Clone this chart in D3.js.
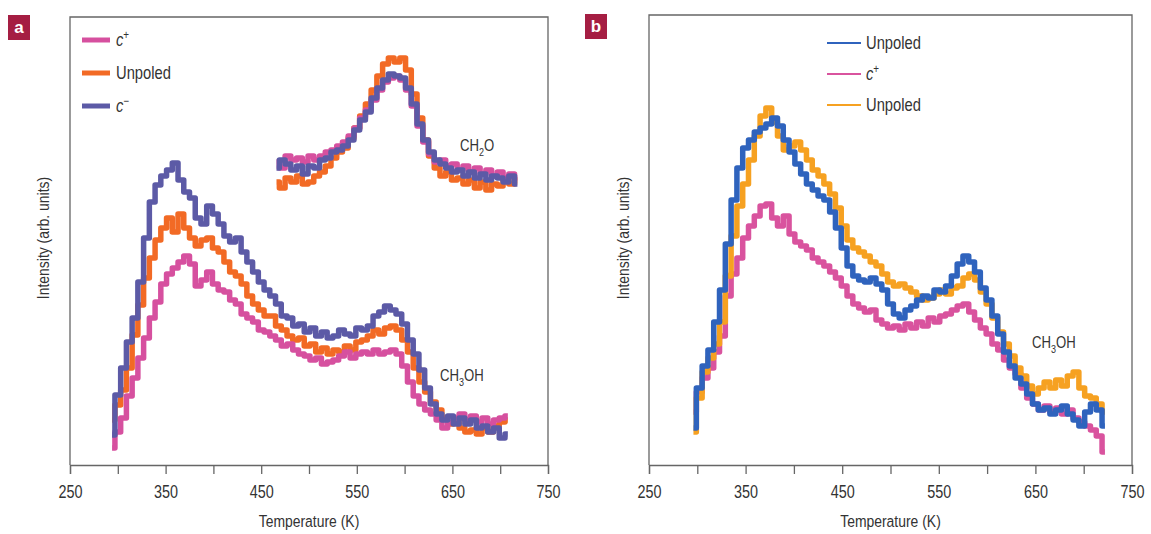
<!DOCTYPE html>
<html>
<head>
<meta charset="utf-8">
<script src="https://cdn.jsdelivr.net/npm/d3@7"></script>
<style>
  body { margin: 0; background: #fff; }
  text { font-family: 'Liberation Sans', Arial, sans-serif; fill: #333; }
</style>
</head>
<body>
<div id="graf"></div>
<script>
// Temperature sample points (K)
const tempA = [294,300,306,312,318,324,330,336,342,348,354,360,366,372,378,384,390,396,402,408,
  414,420,426,432,438,444,450,456,462,468,474,480,486,492,498,504,510,516,522,528,
  534,540,546,552,558,564,570,576,582,588,594,600,606,612,618,624,630,636,642,648,
  654,660,666,672,678,684,690,696,702,708]
const tempCH2O = [466,472,478,484,490,496,502,508,514,520,526,532,538,544,550,556,562,568,574,580,
  586,592,598,604,610,616,622,628,634,640,646,652,658,664,670,676,682,688,694,700,
  706,712,718]
const tempB = [296,302,308,314,320,326,332,338,344,350,356,362,368,374,380,386,392,398,404,410,
  416,422,428,434,440,446,452,458,464,470,476,482,488,494,500,506,512,518,524,530,
  536,542,548,554,560,566,572,578,584,590,596,602,608,614,620,626,632,638,644,650,
  656,662,668,674,680,686,692,698,704,710,716,722]

// Panel a, CH3OH (arb. units)
const aMinusCH3OH = [30,70,97,123,147,183,227,263,280,289,295,302,285,273,267,247,241,259,251,241,
  229,223,227,213,203,193,183,175,169,161,149,147,139,141,133,137,129,133,127,129,
  135,131,129,137,135,139,149,153,159,155,151,141,125,111,95,77,61,51,45,49,
  41,47,41,45,37,39,33,37,27,31]
const aUnpoledCH3OH = [45,60,75,97,130,160,187,207,225,237,247,233,251,237,227,219,225,227,217,213,
  203,193,189,181,169,161,155,149,149,139,135,129,125,127,119,121,113,117,111,115,
  113,119,115,123,125,129,135,131,137,139,135,125,113,97,83,73,63,55,47,41,
  43,37,33,35,31,37,33,39,43,45]
const aPlusCH3OH = [17,33,47,69,87,107,127,147,163,181,191,197,203,209,201,179,185,193,181,175,
  173,165,161,151,147,143,135,133,129,125,119,121,115,111,109,105,107,101,103,105,
  109,113,107,111,113,111,115,111,113,115,111,99,83,69,61,55,51,45,37,43,
  47,51,45,49,43,47,41,45,47,49]

// Panel a, CH2O
const aMinusCH2O = [297,305,301,295,299,291,299,297,305,307,313,315,319,325,335,345,353,367,377,385,
  391,389,387,377,361,341,325,313,305,301,297,293,295,289,293,287,291,285,289,287,
  283,289,281]
const aUnpoledCH2O = [283,277,287,283,289,281,283,289,293,299,307,313,317,327,337,349,361,375,389,401,
  407,403,407,395,371,347,325,309,297,289,293,285,287,281,285,277,283,275,281,279,
  287,281,285]
const aPlusCH2O = [303,297,309,305,307,303,309,305,309,313,315,319,323,329,337,347,355,365,375,383,
  387,389,385,375,359,339,323,311,303,305,299,301,295,299,293,297,291,295,289,293,
  287,291,287]

// Panel b, CH3OH
const bUnpoledBlue = [37,77,99,115,143,175,221,265,297,317,325,333,337,341,347,339,325,313,301,291,
  281,275,269,265,253,237,217,199,189,185,183,187,181,175,161,151,147,155,159,165,
  169,167,175,173,179,189,201,209,203,193,177,165,149,131,113,99,87,81,71,61,
  55,57,51,55,59,51,45,39,53,61,55,39]
const bUnpoledOrange = [33,67,93,107,121,143,189,229,259,281,305,329,349,357,343,329,315,319,323,315,
  305,295,289,281,271,257,239,225,217,213,209,203,199,191,183,179,181,177,173,169,
  165,167,171,175,171,177,179,187,191,185,173,161,147,133,121,109,97,89,79,71,
  77,83,77,85,79,89,93,77,69,67,61,53]
const bPlus = [53,73,87,97,113,129,169,191,207,227,239,249,259,261,247,239,249,231,223,219,
  215,207,203,199,193,187,179,169,161,157,153,155,145,141,137,139,135,141,137,143,
  139,147,143,149,151,155,159,161,153,145,137,131,121,115,105,97,91,77,67,61,
  55,59,53,57,51,55,47,43,39,35,29,13]

const xTicks = [250,300,350,400,450,500,550,600,650,700,750]
const xTickLabels = ['250','','350','','450','','550','','650','','750']

const colA = { plus: '#d6509f', unpoled: '#f26a25', minus: '#5c5aa6' }
const colB = { blue: '#2f63bd', plus: '#d9539e', orange: '#f6a121' }

const svg = d3.select('#graf').append('svg')
  .attr('width', 1151)
  .attr('height', 534)

// squeeze the text horizontally a little, the original uses a condensed face
function narrow(sel, k) {
  sel.attr('transform', function () {
    const x = +this.getAttribute('x') || 0
    return `translate(${x},0) scale(${k},1) translate(${-x},0)`
  })
}

function panel(opts) {
  const g = svg.append('g')
    .attr('transform', `translate(${opts.left}, ${opts.top})`)

  const x = d3.scaleLinear().domain([250, 750]).range([0, opts.width])
  const y = d3.scaleLinear().domain([0, opts.height]).range([opts.height, 0])

  // frame
  g.append('path')
    .attr('d', `M0,${opts.height}V0H${opts.width}V${opts.height}`)
    .attr('fill', 'none')
    .attr('stroke', '#666')
    .attr('stroke-width', 1.3)

  const xAxis = d3.axisBottom(x)
    .tickValues(xTicks)
    .tickFormat((d, i) => xTickLabels[i])
    .tickSize(9)
    .tickPadding(11)

  const ax = g.append('g')
    .attr('transform', `translate(0, ${opts.height})`)
    .call(xAxis)
  ax.select('.domain').attr('stroke', '#666').attr('stroke-width', 1.3)
  ax.selectAll('.tick line').attr('stroke', '#666').attr('stroke-width', 1.3)
  ax.selectAll('.tick text').attr('font-size', 18).attr('fill', '#333')
    .style('font-family', "'Liberation Sans', Arial, sans-serif")
  narrow(ax.selectAll('.tick text').attr('x', 0), 0.8)

  const tx = g.append('text')
    .attr('x', opts.width / 2)
    .attr('y', opts.height + 62)
    .attr('text-anchor', 'middle')
    .attr('font-size', 17)
    .text('Temperature (K)')
  narrow(tx, 0.82)

  g.append('text')
    .attr('transform', `translate(${opts.ytx}, ${238 - opts.top}) rotate(-90) scale(0.82,1)`)
    .attr('text-anchor', 'middle')
    .attr('font-size', 17)
    .text('Intensity (arb. units)')

  const line = d3.line()
    .x(d => x(d[0]))
    .y(d => y(d[1]))
    .curve(d3.curveStep)

  opts.series.forEach(s => {
    g.append('path')
      .datum(d3.zip(s.t, s.v))
      .attr('d', line)
      .attr('fill', 'none')
      .attr('stroke', s.color)
      .attr('stroke-width', 5.5)
      .attr('stroke-linejoin', 'round')
  })

  return g
}

const ga = panel({
  left: 70, top: 17, width: 478, height: 448, ytx: -21,
  series: [
    { t: tempA, v: aUnpoledCH3OH, color: colA.unpoled },
    { t: tempA, v: aPlusCH3OH, color: colA.plus },
    { t: tempA, v: aMinusCH3OH, color: colA.minus },
    { t: tempCH2O, v: aUnpoledCH2O, color: colA.unpoled },
    { t: tempCH2O, v: aPlusCH2O, color: colA.plus },
    { t: tempCH2O, v: aMinusCH2O, color: colA.minus }
  ]
})

const gb = panel({
  left: 649, top: 15, width: 483, height: 450, ytx: -20,
  series: [
    { t: tempB, v: bPlus, color: colB.plus },
    { t: tempB, v: bUnpoledOrange, color: colB.orange },
    { t: tempB, v: bUnpoledBlue, color: colB.blue }
  ]
})

// legends
function sup(el, base, s, italic) {
  const t = el.append('text')
  t.append('tspan').attr('font-style', italic ? 'italic' : null).text(base)
  if (s) t.append('tspan').attr('dy', -7).attr('font-size', 12).text(s)
  return t
}

const legA = [
  { label: 'c', s: '+', italic: true, color: colA.plus },
  { label: 'Unpoled', s: '', italic: false, color: colA.unpoled },
  { label: 'c', s: '\u2212', italic: true, color: colA.minus }
]
legA.forEach((d, i) => {
  ga.append('line')
    .attr('x1', 12).attr('x2', 40)
    .attr('y1', 23 + i * 33).attr('y2', 23 + i * 33)
    .attr('stroke', d.color).attr('stroke-width', 5)
  const t = sup(ga, d.label, d.s, d.italic)
    .attr('x', 46).attr('y', 29 + i * 33)
    .attr('font-size', 18)
  narrow(t, 0.82)
})

const legB = [
  { label: 'Unpoled', s: '', italic: false, color: colB.blue },
  { label: 'c', s: '+', italic: true, color: colB.plus },
  { label: 'Unpoled', s: '', italic: false, color: colB.orange }
]
legB.forEach((d, i) => {
  gb.append('line')
    .attr('x1', 178).attr('x2', 212)
    .attr('y1', 28 + i * 31).attr('y2', 28 + i * 31)
    .attr('stroke', d.color).attr('stroke-width', 2)
  const t = sup(gb, d.label, d.s, d.italic)
    .attr('x', 217).attr('y', 34 + i * 31)
    .attr('font-size', 18)
  narrow(t, 0.82)
})

// species labels
function chem(el, x, y, parts) {
  const t = el.append('text').attr('x', x).attr('y', y).attr('font-size', 16)
  let shift = 0
  parts.forEach(p => {
    if (p.sub) {
      t.append('tspan').attr('dy', 5).attr('font-size', 11).text(p.sub)
      shift = -5
    } else {
      t.append('tspan').attr('dy', shift).text(p.txt)
      shift = 0
    }
  })
  narrow(t, 0.82)
}
chem(ga, 390, 134, [{ txt: 'CH' }, { sub: '2' }, { txt: 'O' }])
chem(ga, 370, 364, [{ txt: 'CH' }, { sub: '3' }, { txt: 'OH' }])
chem(gb, 383, 333, [{ txt: 'CH' }, { sub: '3' }, { txt: 'OH' }])

// panel tags
const tags = [
  { label: 'a', x: 8, y: 15 },
  { label: 'b', x: 585, y: 14 }
]
tags.forEach(d => {
  svg.append('rect')
    .attr('x', d.x).attr('y', d.y)
    .attr('width', 22).attr('height', 25)
    .attr('fill', '#a51e43')
  svg.append('text')
    .attr('x', d.x + 11).attr('y', d.y + 18)
    .attr('text-anchor', 'middle')
    .attr('font-size', 17)
    .attr('font-weight', 'bold')
    .style('fill', '#fff')
    .text(d.label)
})
</script>
</body>
</html>
